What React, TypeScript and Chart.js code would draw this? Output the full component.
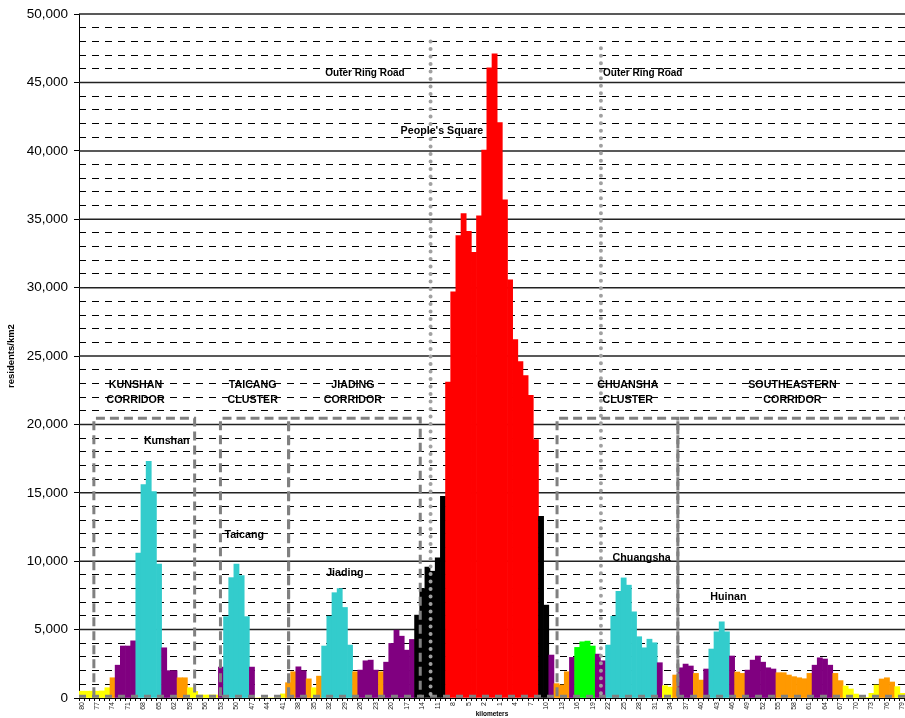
import React, { useEffect, useRef } from 'react';
import { Chart, registerables } from 'chart.js';

Chart.register(...registerables);

const FONT = '"Liberation Sans", Arial, Helvetica, sans-serif';

// Distance labels (km): west side counts down to the centre, east side counts up
const leftKm = [
  '80','79','78','77','76','75','74','73','72','71','70','69','68','67','66','65','64','63','62','61',
  '60','59','58','57','56','55','54','53','52','51','50','49','48','47','46','45','44','43','42','41',
  '40','39','38','37','36','35','34','33','32','31','30','29','28','27','26','25','24','23','22','21',
  '20','19','18','17','16','15','14','13','12','11','10','9','8','7','6','5','4','3','2','1',
];
const rightKm = [
  '0','1','2','3','4','5','6','7','8','9','10','11','12','13','14','15','16','17','18','19',
  '20','21','22','23','24','25','26','27','28','29','30','31','32','33','34','35','36','37','38','39',
  '40','41','42','43','44','45','46','47','48','49','50','51','52','53','54','55','56','57','58','59',
  '60','61','62','63','64','65','66','67','68','69','70','71','72','73','74','75','76','77','78','79',
];

// residents / km2
const leftDensity = [
  500, 500, 500, 500, 520, 750, 1480, 2400, 3800, 3800,
  4180, 10600, 15600, 17300, 15100, 9800, 3670, 2000, 2000, 1480,
  1480, 750, 480, 220, 220, 220, 220, 2260, 5950, 8800,
  9800, 8950, 5950, 2260, 0, 0, 0, 0, 0, 300,
  1120, 1920, 2280, 2000, 1400, 750, 1600, 3800, 5980, 7700,
  8000, 6620, 3870, 1920, 2040, 2720, 2770, 2040, 1920, 2620,
  3990, 4960, 4520, 3500, 4280, 6060, 8000, 9580, 9270, 10240,
  14740, 23090, 29700, 33800, 35420, 34110, 32580, 35260, 40050, 46080,
];
const rightDensity = [
  47100, 42070, 36420, 30580, 26200, 24600, 23580, 22120, 18900, 13280,
  6790, 3140, 1050, 950, 1920, 2970, 3700, 4110, 4160, 3800,
  3210, 2720, 3870, 5980, 7800, 8780, 8250, 6300, 4480, 3670,
  4300, 4040, 2580, 900, 800, 1680, 2210, 2480, 2340, 1800,
  1310, 2120, 3580, 4840, 5570, 4840, 3070, 1900, 1800, 2040,
  2770, 3070, 2620, 2210, 2120, 1850, 1850, 1680, 1560, 1480,
  1410, 1800, 2400, 2940, 2850, 2400, 1800, 1270, 880, 660,
  290, 100, 30, 340, 950, 1390, 1480, 1170, 830, 340,
];

// colour class of each bar
const leftClass = [
  'Y','Y','Y','Y','Y','Y','O','P','P','P',
  'P','C','C','C','C','C','P','P','P','O',
  'O','Y','Y','Y','Y','Y','Y','P','C','C',
  'C','C','C','P','Y','Y','Y','Y','Y','Y',
  'O','O','P','P','O','Y','O','C','C','C',
  'C','C','C','O','P','P','P','P','O','P',
  'P','P','P','P','P','K','K','K','K','K',
  'K','R','R','R','R','R','R','R','R','R',
];
const rightClass = [
  'R','R','R','R','R','R','R','R','R','K',
  'K','P','O','O','O','P','G','G','G','G',
  'P','P','C','C','C','C','C','C','C','C',
  'C','C','P','Y','Y','O','P','P','P','O',
  'O','P','C','C','C','C','P','O','O','P',
  'P','P','P','P','P','O','O','O','O','O',
  'O','O','P','P','P','P','O','O','Y','Y',
  'Y','Y','Y','Y','Y','O','O','O','Y','Y',
];

const palette: Record<string, string> = {
  Y: '#FFFF00',
  O: '#FF9900',
  P: '#800080',
  C: '#33CCCC',
  K: '#000000',
  R: '#FF0000',
  G: '#00FF00',
};

// Annotation anchors in data units (category index, residents/km2)
const corridorBoxes = [
  { from: 2.38, to: 21.9 },
  { from: 26.9, to: 40.1 },
  { from: 40.1, to: 65.6 },
  { from: 92.1, to: 115.5 },
  { from: 115.5, to: 162 },
];
const corridorTop = 20450;
const ringRoads = [
  { at: 67.6, top: 48000 },
  { at: 100.6, top: 47500 },
];
const sectionTitles = [
  { lines: ['KUNSHAN', 'CORRIDOR'], at: 10.45, y: 22850 },
  { lines: ['TAICANG', 'CLUSTER'], at: 33.14, y: 22850 },
  { lines: ['JIADING', 'CORRIDOR'], at: 52.56, y: 22850 },
  { lines: ['CHUANSHA', 'CLUSTER'], at: 105.8, y: 22850 },
  { lines: ['SOUTHEASTERN', 'CORRIDOR'], at: 137.7, y: 22850 },
];
const placeLabels = [
  { text: 'Kunshan', at: 16.5, y: 18760 },
  { text: 'Taicang', at: 31.5, y: 11900 },
  { text: 'Jiading', at: 51.0, y: 9120 },
  { text: 'Chuangsha', at: 108.5, y: 10220 },
  { text: 'Huinan', at: 125.3, y: 7370 },
  { text: "People's Square", at: 69.8, y: 41460 },
];
const roadLabels = [
  { text: 'Outer Ring Road', at: 54.9, y: 45700 },
  { text: 'Outer Ring Road', at: 108.7, y: 45700 },
];

const overlayPlugin = {
  id: 'overlay',
  beforeDatasetsDraw(chart: any) {
    const { ctx, chartArea: a } = chart;
    const y = chart.scales.y;
    ctx.save();
    for (let v = 1000; v <= 50000; v += 1000) {
      const raw = y.getPixelForValue(v);
      ctx.beginPath();
      let py = raw;
      if (v % 5000 === 0) {
        ctx.setLineDash([]);
        ctx.strokeStyle = '#222';
        ctx.lineWidth = 1.5;
      } else {
        py = Math.round(raw - 0.5) + 0.5;
        ctx.setLineDash([7, 6]);
        ctx.strokeStyle = '#000';
        ctx.lineWidth = 1;
      }
      ctx.moveTo(a.left, py);
      ctx.lineTo(a.right, py);
      ctx.stroke();
    }
    ctx.restore();
  },
  afterDatasetsDraw(chart: any) {
    const { ctx, chartArea: a } = chart;
    const x = chart.scales.x;
    const y = chart.scales.y;
    ctx.save();
    ctx.beginPath();
    ctx.rect(a.left, a.top - 2, a.right - a.left, a.bottom - a.top + 4);
    ctx.clip();

    // corridor boxes
    ctx.strokeStyle = '#808080';
    ctx.lineWidth = 3;
    ctx.setLineDash([9, 5]);
    const top = y.getPixelForValue(corridorTop);
    const bottomLine = y.getPixelForValue(130);
    corridorBoxes.forEach((b) => {
      const x1 = x.getPixelForValue(b.from);
      const x2 = x.getPixelForValue(b.to);
      ctx.beginPath();
      ctx.moveTo(x1, bottomLine);
      ctx.lineTo(x1, top);
      ctx.lineTo(x2, top);
      ctx.lineTo(x2, bottomLine);
      ctx.stroke();
    });
    // bottom dashed band
    ctx.setLineDash([7, 6]);
    ctx.beginPath();
    ctx.moveTo(a.left, bottomLine);
    ctx.lineTo(a.right, bottomLine);
    ctx.stroke();

    // ring road dotted lines
    ctx.strokeStyle = '#a0a0a0';
    ctx.lineWidth = 4;
    ctx.lineCap = 'round';
    ctx.setLineDash([0, 7.5]);
    ringRoads.forEach((r) => {
      const px = x.getPixelForValue(r.at);
      ctx.beginPath();
      ctx.moveTo(px, y.getPixelForValue(r.top));
      ctx.lineTo(px, a.bottom);
      ctx.stroke();
    });
    ctx.restore();

    // texts
    ctx.save();
    ctx.fillStyle = '#000';
    ctx.textAlign = 'center';
    ctx.textBaseline = 'middle';
    ctx.font = `bold 10.7px ${FONT}`;
    sectionTitles.forEach((s) => {
      const px = x.getPixelForValue(s.at);
      const py = y.getPixelForValue(s.y);
      s.lines.forEach((line, i) => ctx.fillText(line, px, py + i * 15));
    });
    placeLabels.forEach((p) => {
      ctx.fillText(p.text, x.getPixelForValue(p.at), y.getPixelForValue(p.y));
    });
    ctx.font = `bold 10px ${FONT}`;
    roadLabels.forEach((p) => {
      ctx.fillText(p.text, x.getPixelForValue(p.at), y.getPixelForValue(p.y));
    });
    ctx.restore();
  },
};

export default function App() {
  const ref = useRef<HTMLCanvasElement>(null);

  useEffect(() => {
    const labels = [...leftKm, ...rightKm];
    const values = [...leftDensity, ...rightDensity];
    const colors = [...leftClass, ...rightClass].map((c) => palette[c]);
    const chart = new Chart(ref.current as HTMLCanvasElement, {
      type: 'bar',
      data: {
        labels,
        datasets: [
          {
            data: values,
            backgroundColor: colors,
            borderWidth: 0,
            barPercentage: 1,
            categoryPercentage: 1,
          },
        ],
      },
      options: {
        animation: false,
        responsive: true,
        maintainAspectRatio: false,
        layout: { padding: { top: 13, right: 0, left: 0, bottom: 0 } },
        plugins: { legend: { display: false }, tooltip: { enabled: false } },
        scales: {
          x: {
            grid: {
              display: true,
              drawOnChartArea: false,
              drawTicks: true,
              tickLength: 3,
              color: '#000',
              offset: true,
            },
            border: { display: true, color: '#000', width: 1 },
            ticks: {
              autoSkip: false,
              maxRotation: 90,
              minRotation: 90,
              padding: 1,
              color: '#222',
              font: { family: FONT, size: 7 },
              callback: (_v: any, i: number) => (i % 3 === 0 ? labels[i] : ''),
            },
            title: {
              display: true,
              text: 'kilometers',
              color: '#000',
              font: { family: FONT, size: 6.5, weight: 'bold' },
              padding: { top: 1, bottom: 0 },
            },
            afterFit: (s: any) => {
              s.height = 20;
              s.paddingLeft = 0;
              s.paddingRight = 0;
            },
          } as any,
          y: {
            min: 0,
            max: 50000,
            ticks: {
              stepSize: 5000,
              autoSkip: false,
              padding: 6,
              color: '#000',
              font: { family: FONT, size: 13.5 },
              callback: (v: any) => Number(v).toLocaleString('en-US'),
            },
            grid: {
              drawOnChartArea: false,
              drawTicks: true,
              tickLength: 5,
              color: '#000',
            },
            border: { display: true, color: '#000', width: 1 },
            title: {
              display: true,
              text: 'residents/km2',
              color: '#000',
              font: { family: FONT, size: 9.5, weight: 'bold' },
              padding: { top: 6, bottom: 0 },
            },
            afterFit: (s: any) => {
              s.width = 79;
            },
          } as any,
        },
      },
      plugins: [overlayPlugin],
    });
    return () => chart.destroy();
  }, []);

  return (
    <div style={{ position: 'absolute', left: 0, top: 0, width: 905, height: 718, background: '#fff' }}>
      <canvas ref={ref} />
    </div>
  );
}
